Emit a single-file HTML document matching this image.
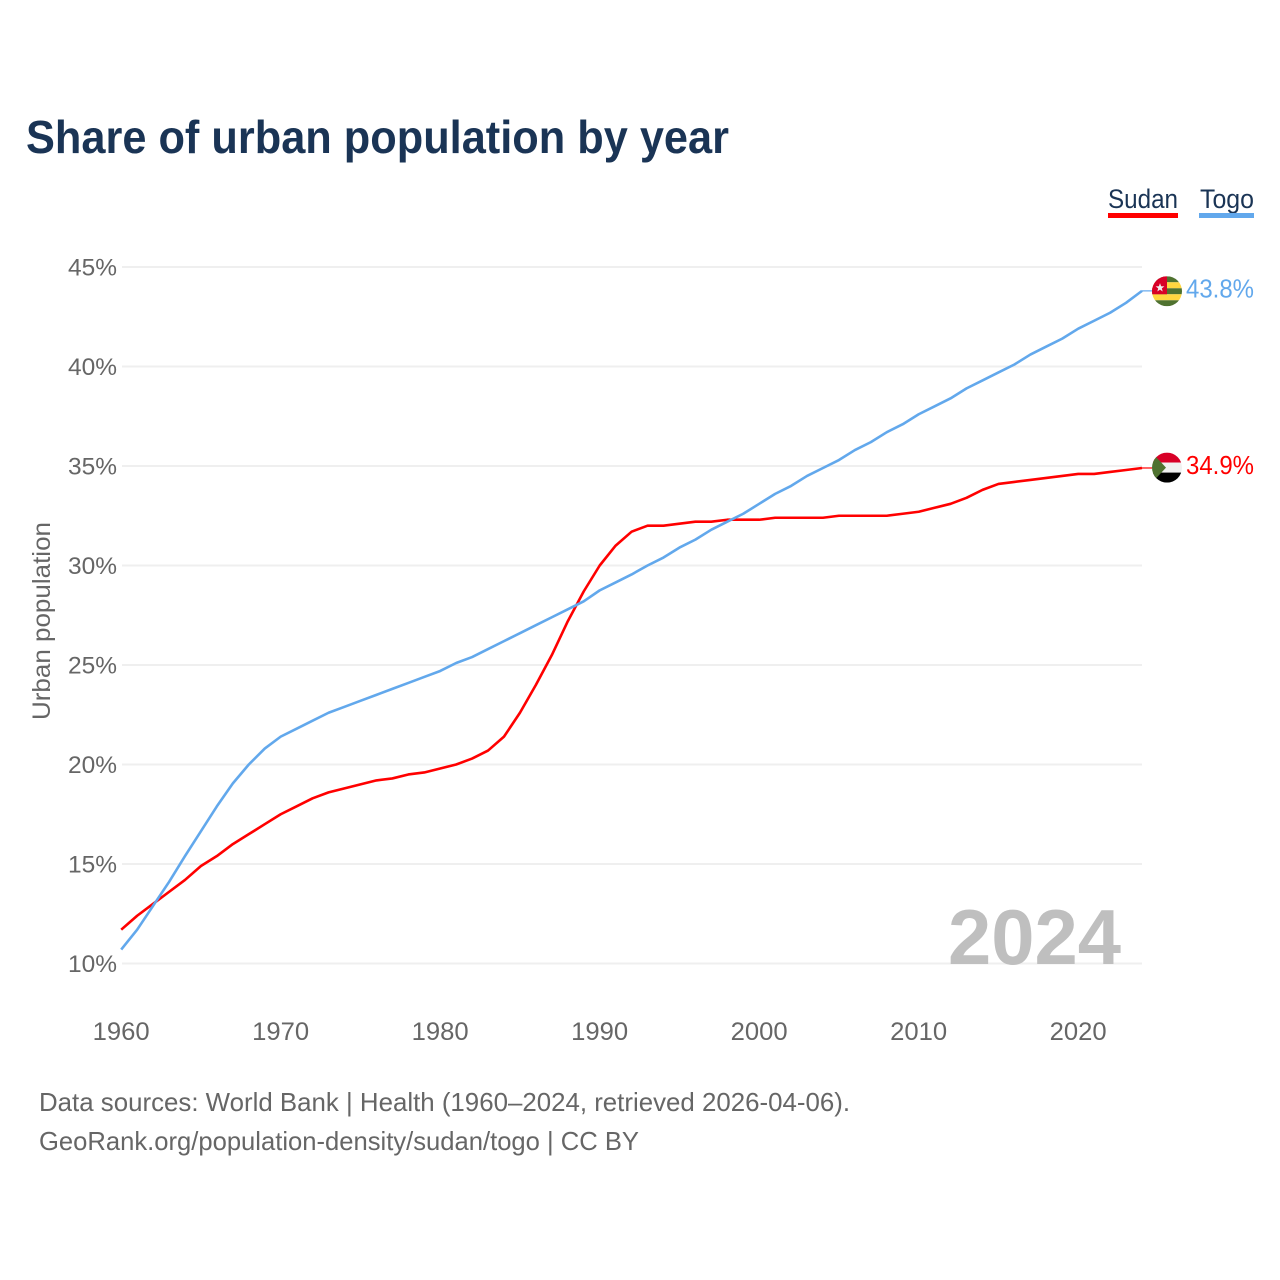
<!DOCTYPE html>
<html lang="en">
<head>
<meta charset="utf-8">
<title>Share of urban population by year</title>
<style>
html,body{margin:0;padding:0;background:#fff}
svg{display:block}
text{font-family:"Liberation Sans",sans-serif}
</style>
</head>
<body>
<svg id="chart" xmlns="http://www.w3.org/2000/svg" width="1280" height="1280" viewBox="0 0 1280 1280">
  <defs>
    <clipPath id="flag-clip-togo"><circle id="clip-togo" cx="1167" cy="290" r="15"/></clipPath>
    <clipPath id="flag-clip-sudan"><circle id="clip-sudan" cx="1167" cy="468" r="15"/></clipPath>
  </defs>
  <rect width="1280" height="1280" fill="#fff"/>
  <text x="26" y="153" font-size="46" font-weight="700" fill="#1a3455" textLength="703" lengthAdjust="spacingAndGlyphs">Share of urban population by year</text>

  <g>
    <text x="1108" y="208" font-size="27" fill="#1a3455" textLength="70" lengthAdjust="spacingAndGlyphs">Sudan</text>
    <rect x="1108" y="213" width="70" height="5" fill="#ff0000"/>
  </g>
  <g>
    <text x="1200" y="208" font-size="27" fill="#1a3455" textLength="54" lengthAdjust="spacingAndGlyphs">Togo</text>
    <rect x="1199" y="213" width="55" height="5" fill="#62a8ec"/>
  </g>

  <g id="grid"></g>
  <g id="y-ticks"></g>
  <g id="x-ticks"></g>

  <text transform="translate(50,720) rotate(-90)" font-size="25" fill="#666" textLength="198" lengthAdjust="spacingAndGlyphs">Urban population</text>

  <text x="1121" y="964" text-anchor="end" font-size="78" font-weight="700" fill="#bfbfbf" textLength="173" lengthAdjust="spacingAndGlyphs">2024</text>

  <g id="series"></g>

  <g id="flag-togo"></g>
  <g id="flag-sudan"></g>

  <g id="end-labels"></g>

  <text x="39" y="1111" font-size="26" fill="#666" textLength="811" lengthAdjust="spacingAndGlyphs">Data sources: World Bank | Health (1960–2024, retrieved 2026-04-06).</text>
  <text x="39" y="1150" font-size="26" fill="#666" textLength="600" lengthAdjust="spacingAndGlyphs">GeoRank.org/population-density/sudan/togo | CC BY</text>
</svg>
<script>
const yTicks = [10, 15, 20, 25, 30, 35, 40, 45];
const xTicks = [1960, 1970, 1980, 1990, 2000, 2010, 2020];
const firstYear = 1960;
const sudanValues = [11.7,12.4,13.0,13.6,14.2,14.9,15.4,16.0,16.5,17.0,17.5,17.9,18.3,18.6,18.8,19.0,19.2,19.3,19.5,19.6,19.8,20.0,20.3,20.7,21.4,22.6,24.0,25.5,27.2,28.7,30.0,31.0,31.7,32.0,32.0,32.1,32.2,32.2,32.3,32.3,32.3,32.4,32.4,32.4,32.4,32.5,32.5,32.5,32.5,32.6,32.7,32.9,33.1,33.4,33.8,34.1,34.2,34.3,34.4,34.5,34.6,34.6,34.7,34.8,34.9];
const togoValues = [10.7,11.7,12.9,14.1,15.4,16.65,17.9,19.05,20.0,20.8,21.4,21.8,22.2,22.6,22.9,23.2,23.5,23.8,24.1,24.4,24.7,25.1,25.4,25.8,26.2,26.6,27.0,27.4,27.8,28.2,28.75,29.15,29.55,30.0,30.4,30.9,31.3,31.8,32.2,32.6,33.1,33.6,34.0,34.5,34.9,35.3,35.8,36.2,36.7,37.1,37.6,38.0,38.4,38.9,39.3,39.7,40.1,40.6,41.0,41.4,41.9,42.3,42.7,43.2,43.8];

const NS = 'http://www.w3.org/2000/svg';
function xScale(year) { return 121.2 + (year - 1960) * 15.95; }
function yScale(value) { return 963.5 - (value - 10) * 19.9; }
function make(tag, attrs, parent, content) {
  const el = document.createElementNS(NS, tag);
  for (const k in attrs) el.setAttribute(k, attrs[k]);
  if (content !== undefined) el.textContent = content;
  parent.appendChild(el);
  return el;
}

const grid = document.getElementById('grid');
const yGroup = document.getElementById('y-ticks');
yTicks.forEach(function (t) {
  const y = yScale(t);
  const line = make('line', {x1: 122, x2: 1142, y1: y, y2: y, stroke: '#efefef', 'stroke-width': 2}, grid);
  
  
  const label = make('text', {x: 117, y: y + 8.5, 'text-anchor': 'end', 'font-size': 24.5, fill: '#666', textLength: 49, lengthAdjust: 'spacingAndGlyphs'}, yGroup, t + '%');
  
  
});

const xGroup = document.getElementById('x-ticks');
xTicks.forEach(function (t) {
  const label = make('text', {x: xScale(t), y: 1040, 'text-anchor': 'middle', 'font-size': 25, fill: '#666', textLength: 57, lengthAdjust: 'spacingAndGlyphs'}, xGroup, String(t));
  
  
});

function linePoints(values) {
  return values.map(function (v, i) { return xScale(firstYear + i).toFixed(2) + ',' + yScale(v).toFixed(2); }).join(' ');
}
const seriesGroup = document.getElementById('series');
const sudanLine = make('polyline', {points: linePoints(sudanValues), fill: 'none', stroke: '#ff0000', 'stroke-width': 2.6, 'stroke-linejoin': 'round'}, seriesGroup);


const togoLine = make('polyline', {points: linePoints(togoValues), fill: 'none', stroke: '#62a8ec', 'stroke-width': 2.6, 'stroke-linejoin': 'round'}, seriesGroup);



const sudanLast = sudanValues[sudanValues.length - 1];
const togoLast = togoValues[togoValues.length - 1];
const lastX = xScale(firstYear + togoValues.length - 1);
const sudanY = yScale(sudanLast);
const togoY = yScale(togoLast);

const sudanConnector = make('line', {x1: lastX, x2: 1153, y1: sudanY, y2: sudanY, stroke: '#ff0000', 'stroke-width': 1.2}, seriesGroup);


const togoConnector = make('line', {x1: lastX, x2: 1153, y1: togoY, y2: togoY, stroke: '#62a8ec', 'stroke-width': 1.2}, seriesGroup);



const endLabels = document.getElementById('end-labels');
const togoLabel = make('text', {x: 1254, y: togoY + 6.5, 'text-anchor': 'end', 'font-size': 26, fill: '#62a8ec', textLength: 68, lengthAdjust: 'spacingAndGlyphs'}, endLabels, togoLast.toFixed(1) + '%');


const sudanLabel = make('text', {x: 1254, y: sudanY + 6, 'text-anchor': 'end', 'font-size': 26, fill: '#ff0000', textLength: 68, lengthAdjust: 'spacingAndGlyphs'}, endLabels, sudanLast.toFixed(1) + '%');



/* Flags follow the end value of each series */
const cx = 1167;
const r = 15;
const tc = togoY + 0.4;
document.getElementById('clip-togo').setAttribute('cy', tc);
const togoFlag = document.getElementById('flag-togo');
togoFlag.setAttribute('clip-path', 'url(#flag-clip-togo)');
['#4f7230', '#ffd640', '#4f7230', '#ffd640', '#4f7230'].forEach(function (c, i) {
  make('rect', {x: cx - r, y: tc - r + i * 6, width: 30, height: 6, fill: c}, togoFlag);
});
make('rect', {x: cx - r, y: tc - r, width: 15, height: 18, fill: '#d80027'}, togoFlag);
const s = [];
for (let i = 0; i < 10; i++) {
  const rad = i % 2 ? 1.9 : 4.6;
  const a = -Math.PI / 2 + i * Math.PI / 5;
  s.push((cx - 7 + rad * Math.cos(a)).toFixed(2) + ',' + (tc - 3.5 + rad * Math.sin(a)).toFixed(2));
}
make('polygon', {points: s.join(' '), fill: '#f0f0f0'}, togoFlag);

const sc = sudanY - 0.4;
document.getElementById('clip-sudan').setAttribute('cy', sc);
const sudanFlag = document.getElementById('flag-sudan');
sudanFlag.setAttribute('clip-path', 'url(#flag-clip-sudan)');
make('rect', {x: cx - r, y: sc - r, width: 30, height: 10, fill: '#d80027'}, sudanFlag);
make('rect', {x: cx - r, y: sc - 5, width: 30, height: 10, fill: '#f0f0f0'}, sudanFlag);
make('rect', {x: cx - r, y: sc + 5, width: 30, height: 10, fill: '#000000'}, sudanFlag);
make('polygon', {points: (cx - r) + ',' + (sc - r) + ' ' + (cx - 1) + ',' + sc + ' ' + (cx - r) + ',' + (sc + r), fill: '#4f7230'}, sudanFlag);
</script>
</body>
</html>
